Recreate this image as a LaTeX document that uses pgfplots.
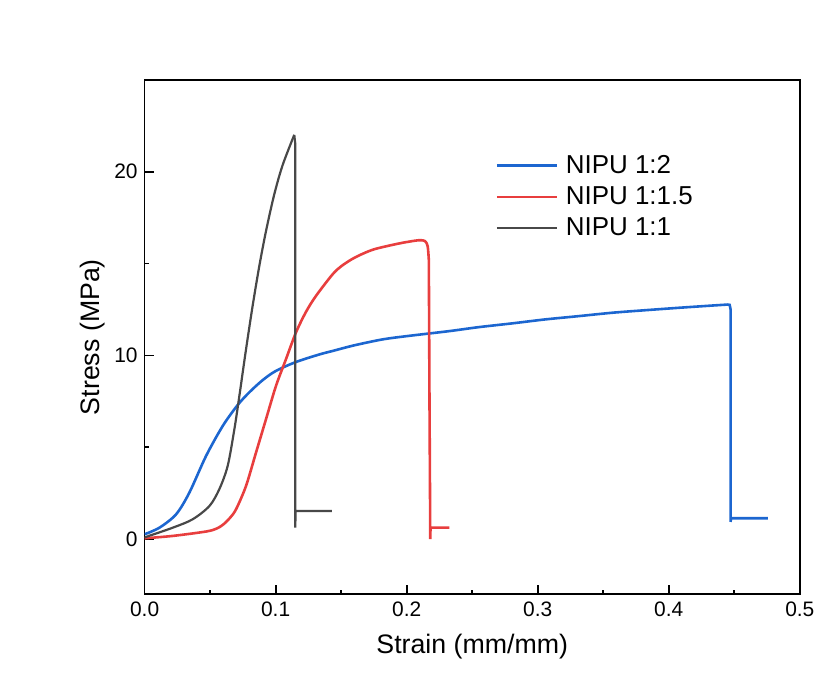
\documentclass[border=0pt]{standalone}
\usepackage{pgfplots}
\pgfplotsset{compat=1.18}
\usepackage{fontspec}
\setmainfont{Liberation Sans}
\definecolor{cblue}{RGB}{28,102,208}
\definecolor{cred}{RGB}{232,62,62}
\definecolor{cblack}{RGB}{72,72,72}
\begin{document}
\begin{tikzpicture}
\begin{axis}[
  name=ax,
  scale only axis,
  width=328.5pt, height=258pt,
  xmin=0, xmax=0.5, ymin=-3, ymax=25,
  xtick={0,0.1,0.2,0.3,0.4,0.5},
  ytick={0,10,20},
  xticklabels={0.0,0.1,0.2,0.3,0.4,0.5},
  minor x tick num=1,
  minor ytick={5,15,25},
  tick pos=left,
  tick align=inside,
  major tick length=4.5pt,
  minor tick length=2.4pt,
  every tick/.style={black, line width=0.9pt},
  axis line style={line width=0.9pt},
  /pgf/number format/assume math mode=true,
  ticklabel style={font=\fontsize{10.5}{12}\selectfont},
  xlabel={Strain (mm/mm)},
  ylabel={Stress (MPa)},
  label style={font=\fontsize{13.4}{16}\selectfont},
  xlabel style={yshift=-2pt},
  ylabel style={yshift=-2pt},
  legend style={draw=none, fill=none, at={(0.535,0.862)}, anchor=north west,
    font=\fontsize{13}{15}\selectfont, row sep=1.1pt, inner sep=0pt,
    nodes={inner xsep=4pt}},
  legend cell align=left,
  legend image code/.code={\draw[#1] (0pt,0pt) -- (30pt,0pt);},
]
\addplot[cblue, line width=1.3pt, smooth, tension=0.5] coordinates {
(0,0.27) (0.0114,0.63) (0.0241,1.36) (0.0342,2.54) (0.0469,4.53) (0.0596,6.16)
(0.0710,7.3) (0.0800,8.0) (0.0900,8.65) (0.1000,9.15) (0.1154,9.64)
(0.1332,10.05) (0.1433,10.24) (0.1600,10.55) (0.1814,10.87) (0.2000,11.05)
(0.2321,11.32) (0.2550,11.54) (0.2800,11.74) (0.3057,11.96) (0.3300,12.13)
(0.3564,12.32) (0.3800,12.45) (0.4072,12.59) (0.4300,12.70) (0.4452,12.77)
};
\addlegendentry{NIPU 1:2}
\addplot[cred, line width=1.3pt, smooth, tension=0.5] coordinates {
(0,0.05) (0.0216,0.18) (0.0470,0.42) (0.0550,0.58) (0.0600,0.8) (0.0650,1.15) (0.0698,1.63)
(0.0774,2.9) (0.0850,4.71) (0.0926,6.52) (0.1002,8.33) (0.1078,9.78) (0.1154,11.23)
(0.1230,12.35) (0.1306,13.22) (0.1433,14.4) (0.1500,14.85) (0.1585,15.25) (0.1670,15.55)
(0.1763,15.80) (0.1940,16.09) (0.2060,16.24) (0.2106,16.27) (0.2140,16.22) (0.2160,15.95)
(0.2169,15.2)
};
\addlegendentry{NIPU 1:1.5}
\addplot[cblack, line width=1.1pt, smooth, tension=0.5] coordinates {
(0,0.1) (0.0216,0.63) (0.0368,1.09) (0.0495,1.81) (0.0570,2.72) (0.0634,3.99)
(0.0685,5.98) (0.0723,7.79) (0.0774,10.33) (0.0824,12.68) (0.0875,14.85)
(0.0926,16.75) (0.0989,18.75) (0.1053,20.35) (0.1142,22.0)
};
\addlegendentry{NIPU 1:1}
\addplot[cblue, line width=1.3pt, forget plot] coordinates {
(0.4452,12.77) (0.4465,12.75) (0.4472,12.5) (0.4472,0.94) (0.4474,1.14) (0.4757,1.14)
};
\addplot[cred, line width=1.3pt, forget plot] coordinates {
(0.2169,15.2) (0.2174,7.6) (0.2180,0.0) (0.2182,0.63) (0.2326,0.63)
};
\addplot[cblack, line width=1.1pt, forget plot] coordinates {
(0.1142,22.0) (0.1150,21.5) (0.1150,0.63) (0.1152,1.54) (0.1430,1.54)
};
\end{axis}
\path ([xshift=-72.5pt,yshift=-42.5pt]ax.south west) rectangle ([xshift=9.5pt,yshift=40pt]ax.north east);
\end{tikzpicture}
\end{document}
